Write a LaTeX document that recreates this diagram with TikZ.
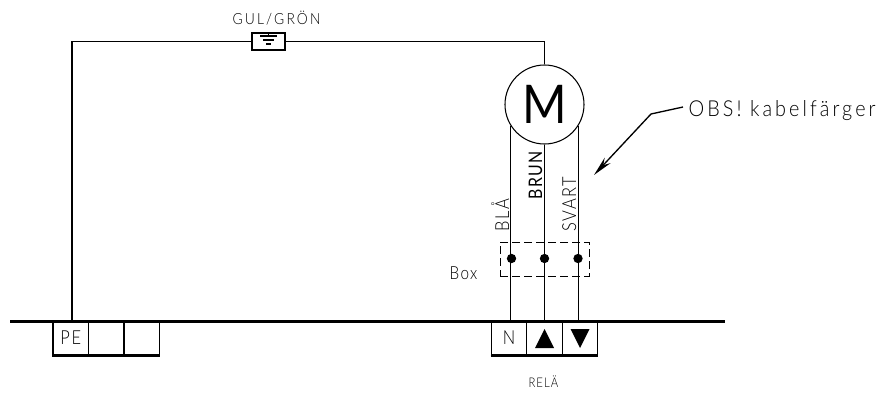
\documentclass[tikz,border=0pt]{standalone}
\usepackage{fontspec}
\setmainfont{Lato Light}[FakeStretch=0.9,LetterSpace=14,BoldFont=Lato]
\newfontfamily\tightfont{Lato Light}[FakeStretch=0.85,LetterSpace=8,BoldFont=Lato]
\usetikzlibrary{positioning,arrows.meta}
\tikzset{
  cell/.style={draw,line width=0.8pt,minimum width=35.5*0.75pt,minimum height=34*0.75pt,inner sep=0pt,font=\fontsize{14.5}{15}\tightfont},
  dot/.style={circle,fill=black,inner sep=0pt,minimum size=7pt},
  lbl/.style={inner sep=0pt,anchor=base west,font=\fontsize{14.5}{15}\tightfont}
}
\begin{document}
\begin{tikzpicture}[x=0.75pt,y=-0.75pt,line width=0.8pt]
  \useasboundingbox (0,0) rectangle (883,393);
  \node[draw,fill=white,circle,minimum size=79*0.75pt,inner sep=0pt,font=\fontsize{40}{40}\bfseries] (motor) at (544.5,104.5) {M};
  \node[draw,minimum width=33*0.75pt,minimum height=17*0.75pt,inner sep=0pt] (earth) at (268.5,41.5) {};
  \foreach \x/\name/\txt in {70.75/pea/PE,106.25/peb/,141.75/pec/,509/reln/N,544.5/relu/,580/reld/} {
    \node[cell] (\name) at (\x,338) {\txt};
  }
  \coordinate (bl) at (10,321); \coordinate (br) at (725,321);
  \draw[line width=2.25pt] (bl)--(br);
  \draw[line width=1.5pt] (pea.south west)--(pec.south east);
  \draw[line width=1.5pt] (reln.south west)--(reld.south east);
  \fill (relu.center)++(0,-9)--++(9.5,19)--++(-19,0)--cycle;
  \fill (reld.center)++(0,10)--++(9.5,-19)--++(-19,0)--cycle;
  \draw (pea.north)++(1.25,0) |- (earth.west);
  \draw (earth.east) -| (motor.north);
  \draw (earth.north)--++(0,3.5) ++(-8.5,0)--++(17,0) ++(-14,4)--++(11,0) ++(-8,4)--++(5,0);
  \draw (motor.-147)--(motor.-147 |- bl);
  \draw (motor.south)--(motor.south |- bl);
  \draw (motor.-33)--(motor.-33 |- bl);
  \foreach \x/\name in {511.5/dota,544.5/dotb,578/dotc} {
    \node[dot] (\name) at (\x,258.5) {};
  }
  \node[draw,dash pattern=on 6pt off 3pt,line width=0.7pt,minimum width=89*0.75pt,minimum height=34*0.75pt,inner sep=0pt] (box) at (544.5,259) {};
  \node[lbl,rotate=90] (bla) at (509,232) {BLÅ};
  \node[lbl,rotate=90,font=\fontsize{14}{15}\tightfont\bfseries] (brun) at (542,200) {BRUN};
  \node[lbl,rotate=90] (svart) at (576,232) {SVART};
  \node[lbl,font=\fontsize{13.5}{14}\tightfont] (boxlbl) at (449,279.5) {Box};
  \node[lbl,font=\fontsize{11.5}{12}\selectfont] (gul) at (232,24) {GUL/GRÖN};
  \node[lbl,font=\fontsize{10}{10}\tightfont] (rela) at (528,387) {RELÄ};
  \node[lbl,font=\fontsize{16.5}{17}\selectfont] (obs) at (688,116) {OBS! kabelfärger};
  \coordinate (lead) at (683,107); \coordinate (elbow) at (651,114); \coordinate (tip) at (594,175);
  \draw[line width=1pt,-{Stealth[length=15pt,width=6pt]}] (lead)--(elbow)--(tip);
\end{tikzpicture}
\end{document}
